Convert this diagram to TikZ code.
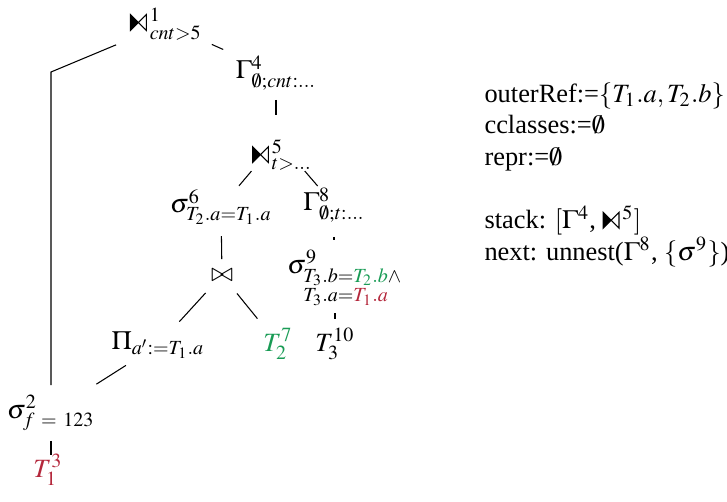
\documentclass[tikz,border=0pt]{standalone}
\usepackage{amsmath}
\usepackage{mathptmx}
\usepackage[no-math]{fontspec}
\setmainfont{Liberation Serif}
\usepackage{tikz}
\DeclareMathSizes{10}{10}{7.6}{6}
\definecolor{tgreen}{RGB}{25,155,85}
\definecolor{tred}{RGB}{180,40,60}
% semi-join symbol, left half filled
\newsavebox\lsjbox
\sbox\lsjbox{\begin{pgfpicture}\pgfsetlinewidth{0.4pt}%
  \pgfpathmoveto{\pgfpoint{0pt}{0pt}}\pgfpathlineto{\pgfpoint{0pt}{6pt}}%
  \pgfpathlineto{\pgfpoint{3pt}{3pt}}\pgfpathclose\pgfusepath{fill,stroke}%
  \pgfpathmoveto{\pgfpoint{3pt}{3pt}}\pgfpathlineto{\pgfpoint{6pt}{6pt}}%
  \pgfpathlineto{\pgfpoint{6pt}{0pt}}\pgfpathclose\pgfusepath{stroke}%
  \end{pgfpicture}}
\newcommand{\lsj}{\mathrel{\usebox\lsjbox\,}}

\begin{document}
\begin{tikzpicture}[x=0.379pt,y=-0.379pt,line width=0.4pt,op/.style={inner sep=2pt}]
  \useasboundingbox (0,0) rectangle (727,501);
  % operator tree
  \node[op] (n1) at (166,24){$\lsj^1_{cnt>5}$};
  \node[op] (n4) at (276,73){$\Gamma^4_{\emptyset;cnt:\ldots}$};
  \node[op] (n5) at (282,155){$\lsj^5_{t>\ldots}$};
  \node[op] (n6) at (221,207){$\sigma^6_{T_2.a=T_1.a}$};
  \node[op] (n8) at (334,205){$\Gamma^8_{\emptyset;t:\ldots}$};
  \node[op] (n7) at (222,275){$\bowtie$};
  \node[op] (n9) at (345,278){$\sigma^9_{\begin{subarray}{l}T_3.b=\textcolor{tgreen}{T_2.b}\wedge\\ T_3.a=\textcolor{tred}{T_1.a}\end{subarray}}$};
  \node[op] (n11) at (158,345){$\Pi_{a':=T_1.a}$};
  \node[op] (n12) at (278,344){$\textcolor{tgreen}{T_2^7}$};
  \node[op] (n10) at (335,344){$T_3^{10}$};
  \node[op] (n2) at (51,413){$\sigma^2_{f\ =\ 123}$};
  \node[op] (n3) at (48,470){$\textcolor{tred}{T_1^3}$};
  \coordinate (bend) at (51,72);
  % edges
  \draw[shorten <=20.5pt,shorten >=10.6pt] (n1.center) -- (bend) -- (n2.center);
  \draw[shorten <=19pt,shorten >=21.9pt] (n1.center) -- (n4.center);
  \draw[shorten <=10.2pt,shorten >=15.2pt] (n4.center) -- (n4.center |- n5.center);
  \draw[shorten <=8pt,shorten >=10.5pt] ([xshift=-6.4pt]n5.center) -- (n6.center);
  \draw[shorten <=8pt,shorten >=9.5pt] ([xshift=3.4pt]n5.center) -- (n8.center);
  \draw[shorten <=11pt,shorten >=6pt] (n6.center) -- (n7.center);
  \draw[shorten <=9.2pt,shorten >=12pt] (n7.center) -- (n11.center);
  \draw[shorten <=9pt,shorten >=12.4pt] (n7.center) -- (n12.center);
  \draw[shorten <=12.1pt,shorten >=14.4pt] (n8.center) -- (n8.center |- n9.center);
  \draw[shorten <=13.3pt,shorten >=9.5pt] (n10.center |- n9.center) -- (n10.center);
  \draw[shorten <=14.4pt,shorten >=20.4pt] (n11.center) -- (n2.center);
  \draw[shorten <=10.6pt,shorten >=5.7pt] (n2.center) -- (n2.center |- n3.center);
  % state
  \node[anchor=north west,align=left,inner sep=0pt] (state) at (484,82){outerRef:=$\{T_1.a, T_2.b\}$\\ cclasses:=$\emptyset$\\ repr:=$\emptyset$\\[\baselineskip] stack: $[\Gamma^4$, $\lsj^5]$\\ next: unnest($\Gamma^8$, $\{\sigma^9\}$)};
\end{tikzpicture}
\end{document}
